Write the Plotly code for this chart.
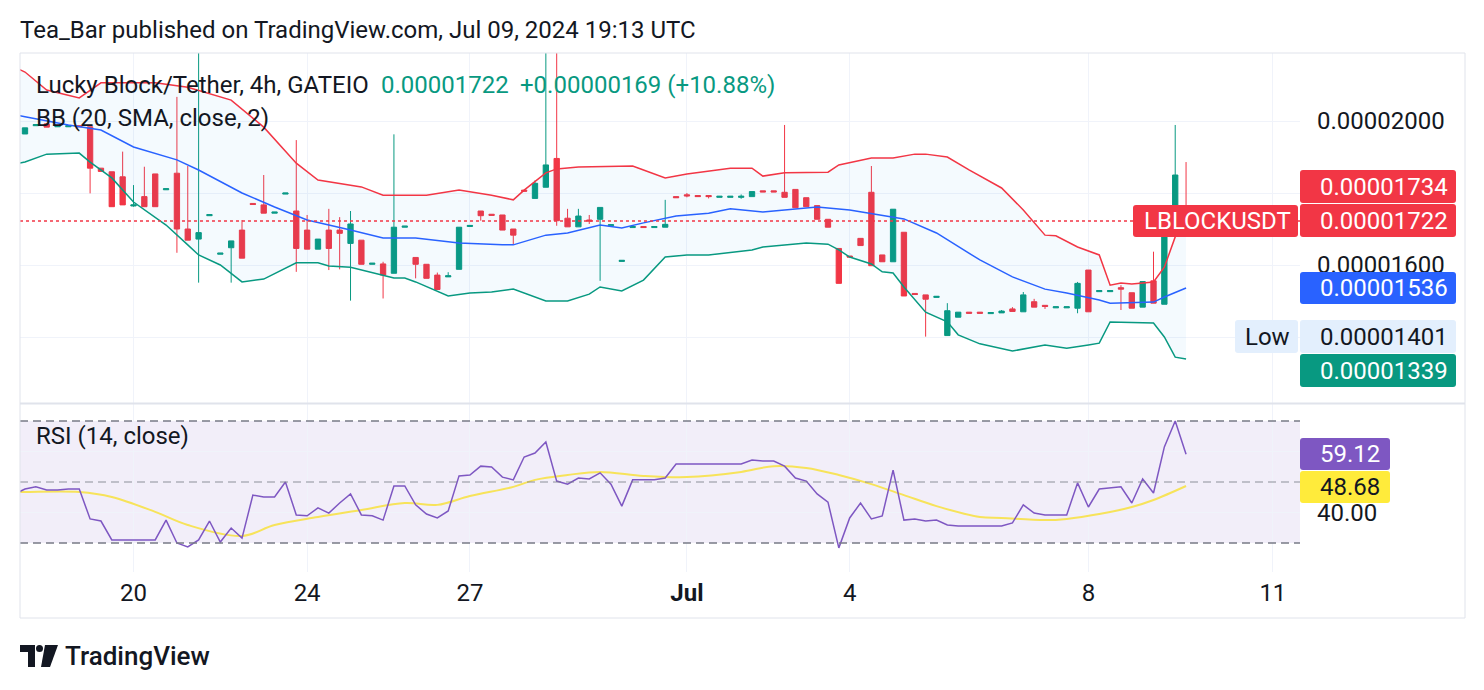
import plotly.graph_objects as go

# ---------------- data (prices in units of 1e-8 USDT) ----------------
UNIT = 1e-8
bar_idx = list(range(108))
opens = [1964,1987,1992,1984,1984,1987,1984,1869,1859,1845,1764,1790,1853,1809,1855,1700,1672,1737,1630,1648,
         1697,1771,1767,1744,1797,1750,1697,1644,1697,1697,1660,1669,1602,1603,1577,1705,1621,1602,1572,1567,
         1588,1707,1750,1741,1739,1700,1808,1785,1816,1896,1730,1706,1725,1727,1709,1610,1704,1707,1704,1705,
         1790,1795,1793,1793,1788,1788,1788,1790,1806,1806,1802,1810,1787,1765,1727,1646,1625,1674,1802,1628,
         1609,1691,1521,1517,1510,1404,1455,1469,1469,1465,1467,1478,1470,1498,1488,1481,1481,1480,1586,1526,
         1526,1537,1523,1483,1556,1491,1683,1765]
highs = [1981,1990,1992,1987,1987,1987,1984,1869,1859,1915,1822,1873,1853,1812,2067,1875,2210,1740,1633,1667,
         1725,1771,1850,1747,1800,1947,1739,1672,1756,1733,1750,1669,1605,1609,1963,1708,1621,1602,1579,1580,
         1705,1710,1750,1741,1739,1700,1808,1835,2200,2220,1756,1756,1739,1760,1712,1613,1707,1707,1707,1781,
         1790,1800,1793,1793,1791,1791,1796,1804,1806,1806,1989,1810,1787,1765,1727,1646,1625,1674,1875,1628,
         1755,1691,1521,1517,1513,1494,1469,1469,1469,1468,1475,1483,1525,1506,1488,1484,1484,1553,1586,1529,
         1529,1544,1523,1554,1637,1683,1989,1886]
lows = [1964,1987,1983,1984,1984,1984,1799,1860,1762,1767,1762,1762,1762,1809,1634,1669,1551,1737,1630,1551,
        1619,1768,1744,1744,1797,1581,1644,1644,1586,1588,1501,1602,1602,1507,1577,1705,1563,1563,1532,1567,
        1588,1707,1723,1738,1697,1658,1805,1785,1816,1709,1706,1706,1714,1556,1709,1610,1704,1704,1704,1705,
        1787,1788,1790,1785,1788,1788,1784,1790,1803,1803,1788,1759,1762,1727,1705,1549,1622,1654,1598,1609,
        1609,1514,1518,1401,1510,1404,1455,1466,1466,1465,1467,1471,1470,1483,1478,1481,1481,1466,1470,1526,
        1526,1475,1480,1483,1494,1491,1683,1715]
closes = [1981,1990,1983,1987,1987,1984,1869,1860,1762,1767,1767,1762,1762,1812,1700,1669,1690,1740,1633,1667,
          1619,1768,1744,1747,1800,1646,1644,1672,1646,1688,1714,1602,1605,1572,1705,1708,1602,1563,1532,1570,
          1705,1710,1737,1738,1697,1683,1805,1827,1878,1723,1706,1736,1722,1760,1712,1613,1707,1704,1707,1713,
          1787,1792,1790,1790,1791,1791,1791,1804,1803,1803,1788,1759,1762,1727,1705,1549,1622,1654,1598,1609,
          1755,1514,1518,1505,1513,1473,1469,1466,1466,1468,1472,1471,1517,1483,1485,1484,1484,1549,1470,1529,
          1529,1533,1480,1554,1494,1683,1850,1722]

# Bollinger bands (20, SMA, close, 2)
bb_up_idx = [-1,0,2,5,7,12,15,19,22,25,27,31,33,37,40,43,45,46,48,49,51,56,57,59,61,65,67,68,70,74,75,78,80,82,83,85,87,90,92,94,95,97,99,100,101,102,104,105,106,107]
bb_up = [2150,2136,2086,2064,2106,2106,2094,2058,1983,1883,1836,1817,1794,1794,1808,1794,1781,1808,1856,1867,1872,1875,1864,1842,1853,1869,1869,1847,1856,1858,1878,1897,1897,1908,1908,1900,1864,1814,1753,1683,1681,1650,1628,1544,1550,1547,1553,1594,1678,1734]
bb_mid_idx = [-1,0,4,7,10,14,16,20,23,26,30,33,36,40,44,45,48,50,53,55,57,60,63,65,68,73,76,80,81,84,88,91,94,96,99,100,104,105,107]
bb_mid = [2017,2012,1989,1975,1928,1892,1864,1800,1761,1725,1697,1675,1675,1661,1656,1656,1683,1689,1711,1703,1717,1736,1744,1756,1747,1761,1753,1733,1728,1689,1614,1567,1533,1522,1503,1494,1497,1511,1536]
bb_lo_idx = [-1,0,2,5,6,8,10,12,13,15,16,18,20,22,25,27,28,30,34,35,36,39,41,43,45,48,50,52,53,55,57,59,61,63,65,67,68,69,72,74,75,76,78,79,80,81,82,83,85,86,88,91,94,96,98,99,100,103,104,105,106,107]
bb_lo = [1880,1886,1908,1911,1886,1842,1775,1731,1711,1656,1628,1600,1553,1561,1606,1606,1597,1594,1564,1564,1553,1514,1522,1525,1533,1500,1500,1519,1539,1528,1558,1622,1628,1628,1636,1642,1650,1653,1661,1658,1642,1622,1603,1581,1578,1539,1503,1469,1442,1406,1381,1361,1378,1369,1378,1383,1442,1439,1439,1400,1344,1339]

# RSI (14, close), bars -1..107
rsi_idx = list(range(-1, 108))
rsi = [46.0,47.7,48.4,47.4,47.4,47.7,47.7,37.9,37.2,31.0,31.0,31.0,31.0,31.0,37.5,30.0,28.7,31.0,37.2,30.3,34.9,
       31.6,45.7,45.1,45.1,50.0,39.2,38.9,41.5,39.8,43.1,46.1,39.2,38.9,37.5,48.7,48.7,42.5,39.5,38.2,40.5,
       52.0,52.3,55.2,54.9,51.6,50.7,58.2,59.5,63.1,50.3,49.3,51.3,51.0,53.0,49.3,42.1,50.7,50.7,50.7,51.3,
       55.9,55.9,55.9,55.9,55.9,55.9,55.9,57.2,56.9,56.9,55.2,51.3,50.3,46.1,43.4,28.4,38.2,43.1,37.9,38.9,
       53.9,37.5,37.9,37.2,37.5,35.9,35.6,35.6,35.6,35.6,35.6,36.6,42.5,39.8,39.2,39.2,39.2,49.7,41.8,47.7,
       48.0,48.4,43.1,51.0,46.4,61.5,70.0,59.12]
rsi_ma_idx = [-1,0,5,8,12,15,20,23,27,31,35,38,41,45,47,50,53,57,61,66,69,72,75,78,81,84,88,90,94,96,99,102,104,107]
rsi_ma = [46.7,46.7,46.7,45.1,40.2,35.9,32.3,35.9,38.5,40.8,43.1,42.5,45.4,48.4,50.7,52.3,53.3,52.0,51.6,53.3,55.2,54.6,52.3,49.3,45.7,42.1,38.5,38.2,37.5,37.9,39.5,41.8,44.1,48.68]

x_tick_idx = [10, 26, 41, 61, 76, 98, 115]
x_tick_text = ["20", "24", "27", "<b>Jul</b>", "4", "8", "11"]
price_ticks = [1400, 1600, 1800, 2000]
price_tick_text = ["", "0.00001600", "", "0.00002000"]   # others hidden behind value labels
rsi_ticks = [40, 60]
rsi_tick_text = ["40.00", ""]

# ---------------- layout helpers ----------------
W, HT = 1484, 690
ML, MR, MT, MB = 20, 184, 53, 118
PW, PH = W - ML - MR, HT - MT - MB

def px(x):
    return (x - ML) / PW

def py(y):
    return (HT - MB - y) / PH

def rrect(x0, y0, x1, y1, r=3):
    return (f"M {px(x0 + r)},{py(y0)} L {px(x1 - r)},{py(y0)} Q {px(x1)},{py(y0)} {px(x1)},{py(y0 + r)} "
            f"L {px(x1)},{py(y1 - r)} Q {px(x1)},{py(y1)} {px(x1 - r)},{py(y1)} "
            f"L {px(x0 + r)},{py(y1)} Q {px(x0)},{py(y1)} {px(x0)},{py(y1 - r)} "
            f"L {px(x0)},{py(y0 + r)} Q {px(x0)},{py(y0)} {px(x0 + r)},{py(y0)} Z")

GREEN, RED, BLUE, PURPLE, YELLOW = "#089981", "#F23645", "#2962FF", "#7E57C2", "#F7E35A"
TXT = "#131722"
FONT = "Roboto"
FS = 24

P = lambda arr: [v * UNIT for v in arr]

fig = go.Figure()

# Bollinger band fill + lines
fig.add_trace(go.Scatter(x=bb_up_idx, y=P(bb_up), mode="lines", line=dict(color=RED, width=1.5),
                         hoverinfo="skip", xaxis="x", yaxis="y"))
fig.add_trace(go.Scatter(x=bb_lo_idx, y=P(bb_lo), mode="lines", line=dict(color=GREEN, width=1.5),
                         fill="tonexty", fillcolor="rgba(33,150,243,0.05)", hoverinfo="skip", xaxis="x", yaxis="y"))
fig.add_trace(go.Scatter(x=bb_mid_idx, y=P(bb_mid), mode="lines", line=dict(color=BLUE, width=1.5),
                         hoverinfo="skip", xaxis="x", yaxis="y"))

fig.add_trace(go.Candlestick(
    x=bar_idx, open=P(opens), high=P(highs), low=P(lows), close=P(closes),
    increasing=dict(line=dict(color=GREEN, width=1), fillcolor=GREEN),
    decreasing=dict(line=dict(color=RED, width=1), fillcolor=RED),
    whiskerwidth=0, hoverinfo="skip", xaxis="x", yaxis="y"))

# RSI
fig.add_trace(go.Scatter(x=rsi_ma_idx, y=rsi_ma, mode="lines", line=dict(color=YELLOW, width=2, shape="spline"),
                         hoverinfo="skip", xaxis="x", yaxis="y2"))
fig.add_trace(go.Scatter(x=rsi_idx, y=rsi, mode="lines", line=dict(color=PURPLE, width=1.5),
                         hoverinfo="skip", xaxis="x", yaxis="y2"))

shapes = []
# RSI band
shapes.append(dict(type="rect", xref="paper", yref="y2", x0=0, x1=1, y0=30, y1=70,
                   fillcolor="rgba(126,87,194,0.1)", line=dict(width=0), layer="below"))
for lvl, col in [(70, "#787B86"), (30, "#787B86"), (50, "rgba(120,123,134,0.55)")]:
    shapes.append(dict(type="line", xref="paper", yref="y2", x0=0, x1=1, y0=lvl, y1=lvl,
                       line=dict(color=col, width=1.5, dash="8px,5px"), layer="above"))
# last price dotted line
shapes.append(dict(type="line", xref="paper", yref="y", x0=0, x1=1, y0=closes[-1] * UNIT, y1=closes[-1] * UNIT,
                   line=dict(color=RED, width=1.5, dash="dot"), layer="above"))
# frame and pane separator
shapes.append(dict(type="rect", xref="paper", yref="paper", x0=px(20), x1=px(1465), y0=py(618), y1=py(53),
                   line=dict(color="#E0E3EB", width=1), fillcolor="rgba(0,0,0,0)", layer="above"))
shapes.append(dict(type="line", xref="paper", yref="paper", x0=px(20), x1=px(1465), y0=py(403.5), y1=py(403.5),
                   line=dict(color="#E0E3EB", width=2), layer="above"))

annotations = []

def label_box(x0, y0, x1, y1, fill, text, color, tx=1318):
    shapes.append(dict(type="path", xref="paper", yref="paper", path=rrect(x0, y0, x1, y1),
                       fillcolor=fill, line=dict(width=0), layer="above"))
    annotations.append(dict(xref="paper", yref="paper", x=px(tx), y=py((y0 + y1) / 2), text=text,
                            xanchor="left", yanchor="middle", showarrow=False,
                            font=dict(family=FONT, size=FS, color=color)))

label_box(1300, 170, 1456, 203, RED, "0.00001734", "white")
label_box(1300, 204, 1456, 237, RED, "0.00001722", "white")
label_box(1133, 205, 1298, 237, RED, "LBLOCKUSDT", "white", tx=1142)
label_box(1300, 272, 1456, 304, BLUE, "0.00001536", "white")
label_box(1235, 320, 1298, 353, "#E3EFFD", "Low", TXT, tx=1243)
label_box(1300, 320, 1456, 353, "#E3EFFD", "0.00001401", TXT)
label_box(1300, 354, 1456, 387, GREEN, "0.00001339", "white")
label_box(1300, 438, 1390, 470, PURPLE, "59.12", "white")
label_box(1300, 471, 1390, 503, "#FFEB3B", "48.68", TXT)

def text(x, y, s, color=TXT, size=FS, weight=400):
    annotations.append(dict(xref="paper", yref="paper", x=px(x), y=py(y), text=s, xanchor="left",
                            yanchor="middle", showarrow=False,
                            font=dict(family=FONT, size=size, color=color, weight=weight)))

text(18, 30, "Tea_Bar published on TradingView.com, Jul 09, 2024 19:13 UTC")
text(34, 85, "Lucky Block/Tether, 4h, GATEIO")
text(379, 85, "0.00001722", GREEN)
text(518, 85, "+0.00000169 (+10.88%)", GREEN)
text(34, 118, "BB (20, SMA, close, 2)")
text(34, 436, "RSI (14, close)")
text(63, 656, "TradingView", size=26, weight=500)

# TradingView logo (approximate)
logo = [
    f"M {px(20)},{py(645)} L {px(35)},{py(645)} L {px(35)},{py(667)} L {px(28)},{py(667)} L {px(28)},{py(652)} L {px(20)},{py(652)} Z",
    f"M {px(45)},{py(645)} L {px(58)},{py(645)} L {px(50)},{py(667)} L {px(41)},{py(667)} Z",
]
for pth in logo:
    shapes.append(dict(type="path", xref="paper", yref="paper", path=pth, fillcolor=TXT, line=dict(width=0)))
shapes.append(dict(type="circle", xref="paper", yref="paper", x0=px(36), x1=px(43), y0=py(652), y1=py(645),
                   fillcolor=TXT, line=dict(width=0)))

fig.update_layout(
    width=W, height=HT, margin=dict(l=ML, r=MR, t=MT, b=MB),
    paper_bgcolor="white", plot_bgcolor="white", showlegend=False,
    shapes=shapes, annotations=annotations,
    xaxis=dict(range=[-0.46, 117.5], anchor="y2", tickvals=x_tick_idx, ticktext=x_tick_text,
               showgrid=True, gridcolor="#F0F3FA", gridwidth=1, zeroline=False, showline=False,
               ticks="", ticklabelstandoff=4, tickfont=dict(family=FONT, size=FS, color=TXT),
               rangeslider=dict(visible=False), fixedrange=True),
    yaxis=dict(domain=[py(403), 1], range=[1216.7 * UNIT, 2188.9 * UNIT], side="right",
               tickvals=[v * UNIT for v in price_ticks], ticktext=price_tick_text,
               showgrid=True, gridcolor="#F0F3FA", zeroline=False, showline=False, ticks="",
               ticklabelstandoff=16, tickfont=dict(family=FONT, size=FS, color=TXT)),
    yaxis2=dict(domain=[0, py(404)], range=[20.49, 75.57], side="right", tickvals=rsi_ticks,
                ticktext=rsi_tick_text, showgrid=True, gridcolor="#F0F3FA", zeroline=False,
                showline=False, ticks="", ticklabelstandoff=16, tickfont=dict(family=FONT, size=FS, color=TXT)),
)

fig.write_html("out.html")
